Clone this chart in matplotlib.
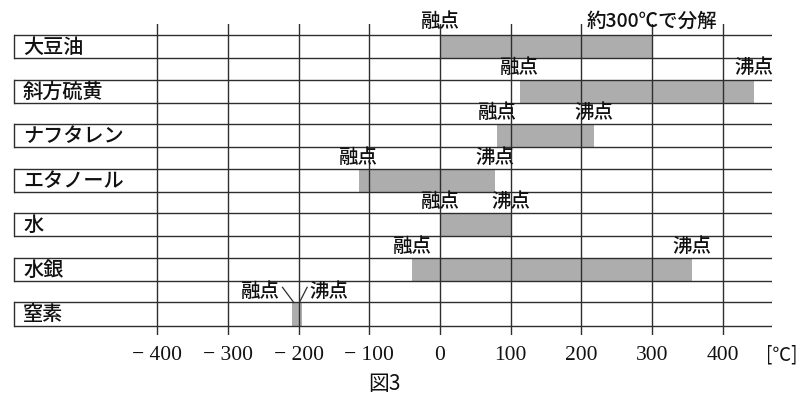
import matplotlib
matplotlib.use("Agg")
import matplotlib.pyplot as plt
import matplotlib.transforms as mtrans

plt.rcParams['font.family'] = ['Noto Sans CJK JP', 'DejaVu Sans']

substances = ['大豆油', '斜方硫黄', 'ナフタレン', 'エタノール', '水', '水銀', '窒素']
melting = [0, 113, 81, -115, 0, -39, -210]
boiling = [300, 445, 218, 78, 100, 357, -196]
end_labels = ['約300℃で分解', '沸点', '沸点', '沸点', '沸点', '沸点', '沸点']
ticks = [-400, -300, -200, -100, 0, 100, 200, 300, 400]
tick_labels = ['− 400', '− 300', '− 200', '− 100', '0', '100', '200', '300', '400']

W, H = 804, 398
fig = plt.figure(figsize=(W / 100, H / 100), dpi=100)
left_px, right_px, top_px, bot_px = 14, 772, 24, 335
ax = fig.add_axes([left_px / W, 1 - bot_px / H, (right_px - left_px) / W, (bot_px - top_px) / H])
ax.set_xlim(-603, 470)
ax.set_ylim(6.47, -0.505)
ax.axis('off')

line_c = '#2e2e2e'
text_c = '#111111'
bar_h = 0.52
rows = list(range(len(substances)))

# bars
ax.barh(rows, [b - m for m, b in zip(melting, boiling)], left=melting,
        height=bar_h, color='#adadad', edgecolor='none', zorder=1)

# vertical grid lines
for t in ticks:
    ax.axvline(t, color=line_c, lw=1.0, zorder=3)

# row bands
xl, xr = ax.get_xlim()
for r, name in zip(rows, substances):
    y0, y1 = r - bar_h / 2, r + bar_h / 2
    ax.plot([xl, xr], [y0, y0], color=line_c, lw=1.0, zorder=3)
    ax.plot([xl, xr], [y1, y1], color=line_c, lw=1.0, zorder=3)
    ax.plot([xl, xl], [y0, y1], color=line_c, lw=1.0, zorder=3, clip_on=False)
    ax.text(-590, r + 0.02, name, fontsize=14.5, color=text_c, va='center', ha='left',
            fontweight='medium')

# point labels
for r in rows[:-1]:
    dy = -0.56 if r == 0 else -0.52
    ax.text(melting[r], r + dy, '融点', fontsize=14, color=text_c,
            ha='center', va='center', clip_on=False, fontweight='medium')
    ax.text(boiling[r], r + dy, end_labels[r], fontsize=14, color=text_c,
            ha='center', va='center', clip_on=False, fontweight='medium')

# nitrogen labels with connectors
r = rows[-1]
ax.text(-226, r - 0.50, '融点', fontsize=14, color=text_c, ha='right', va='center',
        fontweight='medium')
ax.text(-185, r - 0.50, '沸点', fontsize=14, color=text_c, ha='left', va='center',
        fontweight='medium')
ax.plot([-223, -207], [r - 0.60, r - bar_h / 2], color=line_c, lw=0.9)
ax.plot([-199, -188], [r - bar_h / 2, r - 0.60], color=line_c, lw=0.9)

# tick labels
trans = mtrans.blended_transform_factory(ax.transData, fig.transFigure)
for t, lab in zip(ticks, tick_labels):
    ax.text(t, 1 - 355 / H, lab, transform=trans, fontsize=15.5, color=text_c,
            ha='center', va='center', family='Liberation Serif')
ax.text(484, 1 - 355 / H, '[℃]', transform=trans, fontsize=13.5, color=text_c,
        ha='center', va='center')
ax.text(-78, 1 - 384 / H, '図3', transform=trans, fontsize=15, color=text_c,
        ha='center', va='center')

fig.savefig('out.png', dpi=100, facecolor='white')
